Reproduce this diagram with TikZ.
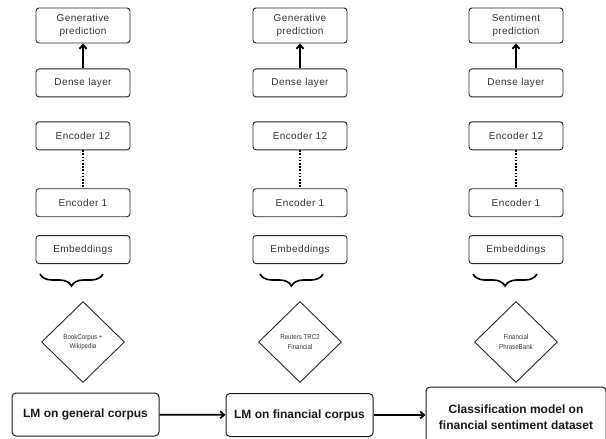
\documentclass[tikz,border=0pt]{standalone}
\usepackage{fontspec}
\setmainfont{Liberation Sans}
\newfontfamily\layerfont[LetterSpace=4]{Liberation Sans}
\newfontfamily\datafont[FakeStretch=0.88]{Liberation Sans}
\usetikzlibrary{positioning,shapes.geometric,decorations.pathreplacing,arrows.meta}
\definecolor{boxtext}{RGB}{51,51,51}
\tikzset{
	layer/.style={
		draw=black!85, rounded corners=3pt, line width=0.9pt,
		minimum width=94pt, minimum height=28pt, text width=86pt,
		inner sep=1pt, align=center, text=boxtext,
		font=\layerfont\fontsize{10}{13.5}\selectfont
	},
	predbox/.style={layer, minimum height=35pt},
	corpus/.style={
		draw=black!85, diamond, line width=0.9pt,
		minimum width=83pt, minimum height=81pt, inner sep=0pt,
		align=center, text=boxtext, font=\datafont\fontsize{7}{9.5}\selectfont
	},
	stage/.style={
		draw=black!90, rounded corners=4pt, line width=1pt,
		minimum width=147pt, minimum height=43pt, align=center,
		text=black!90, font=\bfseries\fontsize{12}{16}\selectfont
	},
	up_arrow/.style={-{Straight Barb[length=4pt,width=7pt]}, line width=1.8pt},
	stage_arrow/.style={-{Straight Barb[length=4pt,width=7pt]}, line width=1.8pt},
	skip_line/.style={line width=1.6pt, dash pattern=on 1.6pt off 1.6pt},
	corpus_brace/.style={decorate, decoration={brace, mirror, amplitude=12pt}, line width=1.6pt}
}
\begin{document}
\begin{tikzpicture}[x=1pt, y=1pt]
	\clip (0,0) rectangle (606,-439);
	\node[predbox] (pred1) at (83,-25.5) {Generative\\prediction};
	\node[layer]   (dense1) [below=25pt of pred1] {Dense layer};
	\node[layer]   (enc12a) [below=24pt of dense1] {Encoder 12};
	\node[layer]   (enc1a) [below=38pt of enc12a] {Encoder 1};
	\node[layer]   (emb1) [below=18pt of enc1a] {Embeddings};
	\node[predbox] (pred2) at (300,-25.5) {Generative\\prediction};
	\node[layer]   (dense2) [below=25pt of pred2] {Dense layer};
	\node[layer]   (enc12b) [below=24pt of dense2] {Encoder 12};
	\node[layer]   (enc1b) [below=38pt of enc12b] {Encoder 1};
	\node[layer]   (emb2) [below=18pt of enc1b] {Embeddings};
	\node[predbox] (pred3) at (516,-25.5) {Sentiment\\prediction};
	\node[layer]   (dense3) [below=25pt of pred3] {Dense layer};
	\node[layer]   (enc12c) [below=24pt of dense3] {Encoder 12};
	\node[layer]   (enc1c) [below=38pt of enc12c] {Encoder 1};
	\node[layer]   (emb3) [below=18pt of enc1c] {Embeddings};
	\node[corpus] (data1) at (83,-342) {BookCorpus +\\Wikipedia};
	\node[corpus] (data2) at (300,-342) {Reuters TRC2\\Financial};
	\node[corpus] (data3) at (516,-342) {Financial\\PhraseBank};
	\node[stage] (general) at (85.5,-414.5) {LM on general corpus};
	\node[stage] (financial) at (299.5,-415) {LM on financial corpus};
	\node[stage, minimum width=180pt, minimum height=60pt] (classifier) at (516,-417)
		{Classification model on\\financial sentiment dataset};
	\draw[up_arrow] (dense1) -- (pred1);
	\draw[up_arrow] (dense2) -- (pred2);
	\draw[up_arrow] (dense3) -- (pred3);
	\draw[skip_line] (enc12a) -- (enc1a);
	\draw[skip_line] (enc12b) -- (enc1b);
	\draw[skip_line] (enc12c) -- (enc1c);
	\draw[corpus_brace] (40,-274) -- (103,-274);
	\draw[corpus_brace] (260,-274) -- (323,-274);
	\draw[corpus_brace] (473,-274) -- (537,-274);
	\draw[stage_arrow] (general) -- (financial);
	\draw[stage_arrow] (financial.east) -- (financial.east -| classifier.west);
\end{tikzpicture}
\end{document}
